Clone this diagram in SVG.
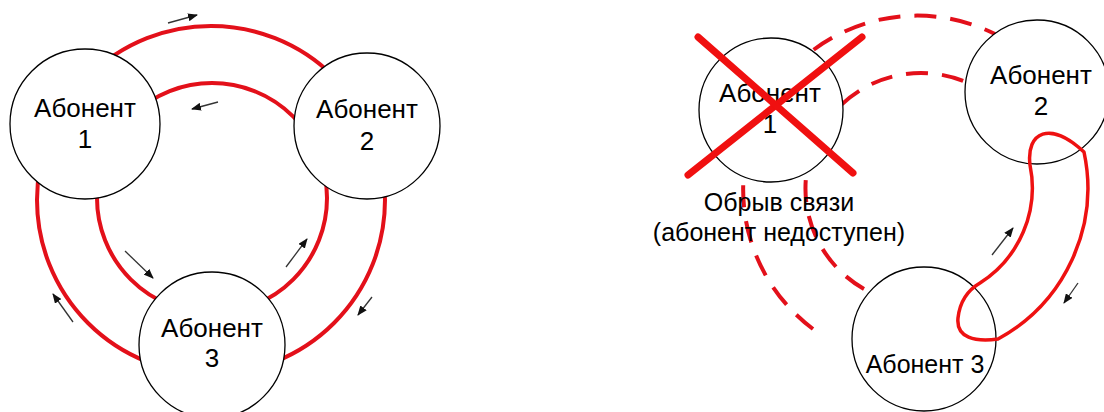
<svg xmlns="http://www.w3.org/2000/svg" width="1104" height="412" viewBox="0 0 1104 412">
<style>
.ring{fill:none;stroke:#e3101a;stroke-width:4}
.dash{fill:none;stroke:#e3101a;stroke-width:4;stroke-dasharray:22 14}
.loop{fill:none;stroke:#ee1111;stroke-width:3.5;stroke-linejoin:round}
.node{fill:#fff;stroke:#000;stroke-width:1.3}
.lbl{font-family:"Liberation Sans",Arial,sans-serif;font-size:26px;fill:#000;text-anchor:middle}
.cap{font-family:"Liberation Sans",Arial,sans-serif;font-size:25px;fill:#000;text-anchor:middle}
.arr{stroke:#333;stroke-width:1.3;fill:none;marker-end:url(#ah)}
.x{stroke:#f01010;stroke-width:7;stroke-linecap:round}
</style>
<defs>
<marker id="ah" markerWidth="10" markerHeight="8" refX="9" refY="4" orient="auto" markerUnits="userSpaceOnUse">
<path d="M0,0 L10,4 L0,8 Z" fill="#111"/>
</marker>
</defs>
<rect width="1104" height="412" fill="#fff"/>
<g id="connectors">
<circle class="ring" cx="211" cy="200" r="174"/>
<circle class="ring" cx="212" cy="198" r="115"/>
<path class="dash" d="M 813 329 A 174 174 0 0 1 995 34"/>
<path class="dash" d="M 864 289 A 115 115 0 0 1 978 88"/>
<line class="arr" x1="168" y1="23" x2="197" y2="15"/>
<line class="arr" x1="218" y1="102" x2="192" y2="109"/>
<line class="arr" x1="125" y1="251" x2="153" y2="278"/>
<line class="arr" x1="286" y1="267" x2="307" y2="239"/>
<line class="arr" x1="372" y1="297" x2="358" y2="315"/>
<line class="arr" x1="73" y1="322" x2="53" y2="294"/>
<line class="arr" x1="992" y1="255" x2="1013" y2="228"/>
<line class="arr" x1="1078" y1="283" x2="1064" y2="303"/>
</g>
<g id="abonent1-left">
<circle class="node" cx="85" cy="124" r="75"/>
<text class="lbl" x="85" y="117">Абонент</text>
<text class="lbl" x="85" y="148">1</text>
</g>
<g id="abonent2-left">
<circle class="node" cx="367" cy="126" r="73"/>
<text class="lbl" x="367" y="118">Абонент</text>
<text class="lbl" x="367" y="150">2</text>
</g>
<g id="abonent3-left">
<circle class="node" cx="212" cy="345" r="73"/>
<text class="lbl" x="212" y="337">Абонент</text>
<text class="lbl" x="212" y="367">3</text>
</g>
<g id="abonent1-right">
<circle class="node" cx="771" cy="110" r="72"/>
<text class="lbl" x="770" y="102">Абонент</text>
<text class="lbl" x="770" y="133">1</text>
</g>
<g id="abonent2-right">
<circle class="node" cx="1037" cy="92" r="72"/>
<text class="lbl" x="1041" y="84">Абонент</text>
<text class="lbl" x="1041" y="115">2</text>
</g>
<g id="abonent3-right">
<circle class="node" cx="924" cy="339" r="72"/>
<text class="cap" x="925" y="373">Абонент 3</text>
</g>
<g id="connectors-front">
<path class="loop" d="M 1030 165 C 1026 132, 1050 120, 1084 152 A 172 172 0 0 1 998 339 C 975 342, 956 338, 958 318 C 960 300, 968 290, 980 283 A 113 113 0 0 0 1030 165 Z"/>
</g>
<g id="break-mark">
<line class="x" x1="688" y1="175" x2="862" y2="37"/>
<line class="x" x1="698" y1="37" x2="853" y2="173"/>
</g>
<g id="caption">
<text class="cap" x="779" y="211">Обрыв связи</text>
<text class="cap" x="779" y="241">(абонент недоступен)</text>
</g>
</svg>
